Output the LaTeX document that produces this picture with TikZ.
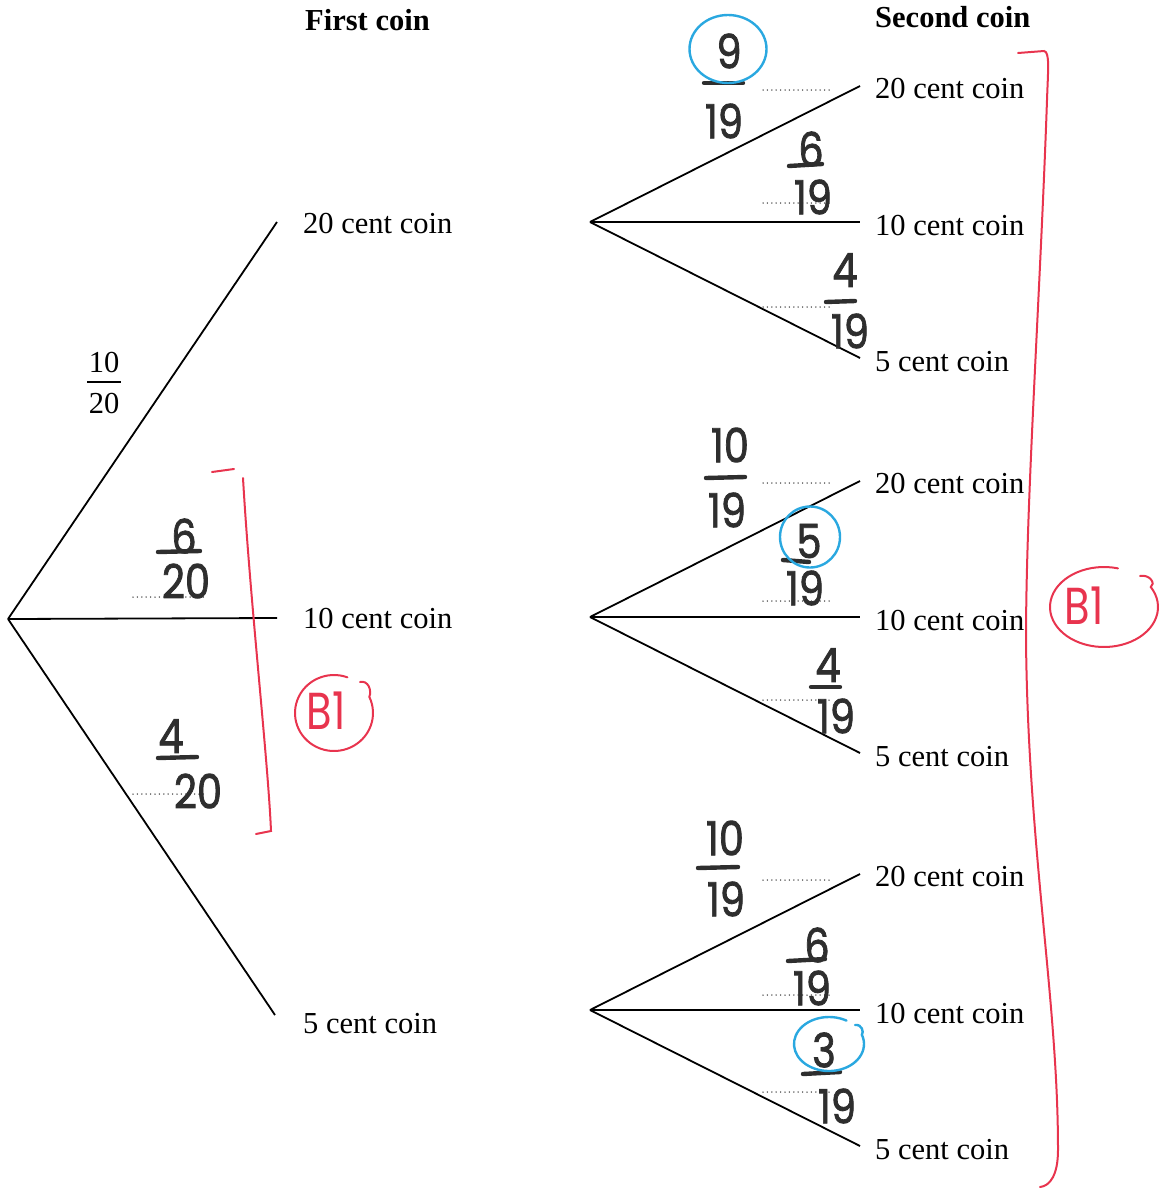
\documentclass[tikz,border=0pt]{standalone}
\usepackage{fontspec}
\setmainfont{Liberation Serif}
\newfontfamily\handfont[FakeBold=1.8]{Poppins}
\newfontfamily\markfont{Poppins}
\definecolor{ink}{HTML}{2E2E2E}
\definecolor{markred}{HTML}{E8344E}
\definecolor{markblue}{HTML}{2AA8E0}
\begin{document}
\begin{tikzpicture}[x=1pt,y=-1pt,
  label/.style={anchor=base west, inner sep=0pt, font=\fontsize{30.5}{36}\selectfont},
  head/.style={anchor=base west, inner sep=0pt, font=\bfseries\fontsize{30.5}{36}\selectfont},
  printnum/.style={anchor=base, inner sep=0pt, font=\fontsize{30.5}{36}\selectfont},
  branch/.style={line width=1.8pt, black},
  dots/.style={line width=1.5pt, black!80, line cap=round, dash pattern=on 0pt off 4.4pt},
  hand/.style={inner sep=0pt, text=ink, font=\handfont\fontsize{47}{52}\selectfont, xscale=0.85},
  bar/.style={line width=4.4pt, line cap=round, ink},
  redpen/.style={line width=2pt, markred, line cap=round},
  bluepen/.style={line width=2.4pt, markblue, line cap=round},
  marktext/.style={inner sep=0pt, text=markred, font=\markfont\fontsize{52}{58}\selectfont, xscale=0.8}
]
\useasboundingbox (0,0) rectangle (1159,1189);

% headings
\node[head] (h1) at (305,30) {First coin};
\node[head] (h2) at (875,27) {Second coin};

% first coin
\coordinate (R) at (8,619);
\coordinate (R20) at (277,222);
\coordinate (R10) at (277,618);
\coordinate (R5) at (275,1015);
\draw[branch] (R) -- (R20);
\draw[branch] (R) -- (R10);
\draw[branch] (R) -- (R5);
\node[label] (f20) at (303,233) {20 cent coin};
\node[label] (f10) at (303,628) {10 cent coin};
\node[label] (f5) at (303,1033) {5 cent coin};

% printed probability 10/20
\node[printnum] (p10) at (104,372) {10};
\node[printnum] (p20) at (104,413) {20};
\draw[line width=1.3pt] (87,382) -- (121,382);

% second coin, one small tree per first outcome
\foreach \g/\ry in {a/222,b/617,c/1010}{
  \coordinate (s\g) at (590,\ry);
  \coordinate (s\g20) at (860,{\ry-136});
  \coordinate (s\g10) at (860,\ry);
  \coordinate (s\g5) at (860,{\ry+136});
  \draw[branch] (s\g) -- (s\g20);
  \draw[branch] (s\g) -- (s\g10);
  \draw[branch] (s\g) -- (s\g5);
  \node[label] (l\g20) at (875,{\ry-124}) {20 cent coin};
  \node[label] (l\g10) at (875,{\ry+13}) {10 cent coin};
  \node[label] (l\g5) at (875,{\ry+149}) {5 cent coin};
}

% answer lines
\foreach \yy in {90,203,307,483,601,700,880,995,1092}{
  \draw[dots] (763,\yy) -- (833,\yy);
}
\draw[dots] (133,597) -- (207,597);
\draw[dots] (133,794) -- (207,794);

% written answers, first coin
\node[hand] (a6) at (184,536) {6};
\draw[bar] (158,552) -- (200,551);
\node[hand] (a620) at (186,581) {20};
\node[hand] (a4) at (171,736) {4};
\draw[bar] (158,758) -- (197,757);
\node[hand] (a420) at (198,791) {20};

% written answers, second coin after a 20 cent coin
\node[hand] (b9) at (729,51) {9};
\draw[bar] (704,83) -- (743,83);
\node[hand] (b919) at (724,121) {19};
\node[hand] (b6) at (811,149) {6};
\draw[bar] (789,166) -- (822,164);
\node[hand] (b619) at (813,197) {19};
\node[hand] (b4) at (845,270) {4};
\draw[bar] (826,302) -- (855,301);
\node[hand] (b419) at (850,331) {19};

% after a 10 cent coin
\node[hand] (c10) at (730,445) {10};
\draw[bar] (706,478) -- (745,477);
\node[hand] (c1019) at (727,510) {19};
\node[hand] (c5) at (809,541) {5};
\draw[bar] (783,560) -- (809,562);
\node[hand] (c519) at (805,588) {19};
\node[hand] (c4) at (828,665) {4};
\draw[bar] (811,687) -- (840,687);
\node[hand] (c419) at (836,716) {19};

% after a 5 cent coin
\node[hand] (d10) at (725,838) {10};
\draw[bar] (698,868) -- (738,867);
\node[hand] (d1019) at (726,899) {19};
\node[hand] (d6) at (817,945) {6};
\draw[bar] (788,961) -- (825,959);
\node[hand] (d619) at (812,988) {19};
\node[hand] (d3) at (824,1050) {3};
\draw[bar] (803,1074) -- (840,1072);
\node[hand] (d319) at (837,1106) {19};

% blue rings
\draw[bluepen] (728,49) ellipse [x radius=38.5pt, y radius=34pt];
\draw[bluepen] (810,537) ellipse [x radius=30pt, y radius=30.5pt];
\draw[bluepen] (829,1044) ++(60:35pt and 27pt)
  arc[start angle=60, end angle=380, x radius=35pt, y radius=27pt]
  .. controls (864,1032) and (862,1024) .. (855,1025);

% red brackets
\draw[redpen] (212,472) -- (234,469);
\draw[redpen] (243,478) .. controls (250,600) and (268,760) .. (271,831) -- (256,834);
\draw[redpen] (1018,53) -- (1044,51) .. controls (1050,52) and (1048,70) .. (1047,100)
  .. controls (1040,300) and (1026,500) .. (1026,640)
  .. controls (1028,850) and (1058,1000) .. (1058,1150)
  .. controls (1058,1175) and (1050,1186) .. (1040,1187);

% B1 marks
\node[marktext] (m1) at (326,711) {B1};
\draw[redpen] (334,713) ++(70:39pt and 38pt)
  arc[start angle=70, end angle=385, x radius=39pt, y radius=38pt]
  .. controls (372,690) and (368,680) .. (360,682);
\node[marktext] (m2) at (1084,606) {B1};
\draw[redpen] (1104,607) ++(75:54pt and 40pt)
  arc[start angle=75, end angle=390, x radius=54pt, y radius=40pt]
  .. controls (1156,584) and (1150,574) .. (1140,576);

\end{tikzpicture}
\end{document}
